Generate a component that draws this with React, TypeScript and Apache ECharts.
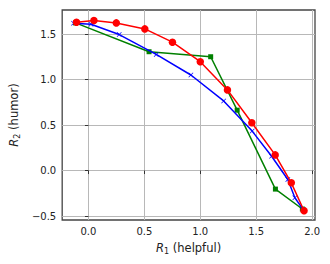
import React, { useEffect, useRef } from "react";
import * as echarts from "echarts";

const xTicks = [0.0, 0.5, 1.0, 1.5, 2.0];
const yTicks = [-0.5, 0.0, 0.5, 1.0, 1.5];

const redX = [-0.107, 0.049, 0.249, 0.504, 0.751, 1.0, 1.243, 1.461, 1.67, 1.814, 1.928];
const redY = [1.631, 1.65, 1.624, 1.558, 1.412, 1.197, 0.887, 0.526, 0.172, -0.135, -0.442];

const blueX = [-0.133, 0.023, 0.275, 0.606, 0.916, 1.209, 1.464, 1.638, 1.783, 1.846, 1.922];
const blueY = [1.62, 1.609, 1.496, 1.277, 1.051, 0.766, 0.434, 0.157, -0.099, -0.3, -0.431];

const greenX = [-0.116, 0.542, 1.093, 1.33, 1.672, 1.913];
const greenY = [1.624, 1.307, 1.252, 0.664, -0.204, -0.423];

const zip = (xs: number[], ys: number[]) => xs.map((x, i) => [x, ys[i]]);
const fmt = (v: number) => v.toFixed(1).replace("-", "\u2212");

const FONT = "DejaVu Sans";
const xMark =
  "path://M0,1L1,0L5,4L9,0L10,1L6,5L10,9L9,10L5,6L1,10L0,9L4,5Z";

const richName = {
  i: { fontStyle: "italic", fontFamily: FONT, fontSize: 11.5, color: "#222" },
  s: { fontFamily: FONT, fontSize: 8, color: "#222", padding: [6, 0, 0, 0] },
  n: { fontFamily: FONT, fontSize: 11.5, color: "#222" },
};

export default function App() {
  const ref = useRef<HTMLDivElement>(null);
  useEffect(() => {
    document.body.style.margin = "0";
    const chart = echarts.init(ref.current!, null, { renderer: "svg" });
    const axisCommon = {
      type: "value",
      axisLine: { show: false },
      axisTick: { show: true, inside: false, length: 3.5, lineStyle: { color: "#333", width: 1 } },
      splitLine: { show: true, lineStyle: { color: "#b8b8b8", width: 1 } },
    };
    chart.setOption({
      animation: false,
      textStyle: { fontFamily: FONT },
      grid: {
        left: 55,
        right: 15,
        top: 10,
        bottom: 44,
        show: true,
        borderColor: "#444",
        borderWidth: 1.3,
        backgroundColor: "#fff",
      },
      xAxis: {
        ...axisCommon,
        min: -0.235,
        max: 2.026,
        axisTick: { ...axisCommon.axisTick, customValues: xTicks },
        axisLabel: {
          customValues: xTicks,
          formatter: fmt,
          fontFamily: FONT,
          fontSize: 10,
          color: "#222",
          margin: 6,
        },
        name: "{i|R}{s|1}{n| (helpful)}",
        nameLocation: "middle",
        nameGap: 21,
        nameTextStyle: {
          fontFamily: FONT,
          fontSize: 11.5,
          color: "#222",
          align: "center",
          rich: richName,
        },
      },
      yAxis: {
        ...axisCommon,
        min: -0.544,
        max: 1.766,
        axisTick: { ...axisCommon.axisTick, customValues: yTicks },
        axisLabel: {
          customValues: yTicks,
          formatter: fmt,
          fontFamily: FONT,
          fontSize: 10,
          color: "#222",
          margin: 6,
        },
        name: "{i|R}{s|2}{n| (humor)}",
        nameLocation: "middle",
        nameGap: 36,
        nameTextStyle: {
          fontFamily: FONT,
          fontSize: 11.5,
          color: "#222",
          align: "center",
          rich: richName,
        },
      },
      series: [
        {
          type: "line",
          data: zip(greenX, greenY),
          symbol: "rect",
          symbolSize: 5,
          lineStyle: { color: "#008000", width: 1.5 },
          itemStyle: { color: "#008000" },
          z: 2,
        },
        {
          type: "line",
          data: zip(blueX, blueY),
          symbol: xMark,
          symbolSize: 5,
          lineStyle: { color: "#0000ff", width: 1.5 },
          itemStyle: { color: "#0000ff" },
          z: 3,
        },
        {
          type: "line",
          data: zip(redX, redY),
          symbol: "circle",
          symbolSize: 7.5,
          lineStyle: { color: "#ff0000", width: 1.5 },
          itemStyle: { color: "#ff0000" },
          z: 4,
        },
      ],
    });
    return () => chart.dispose();
  }, []);
  return <div ref={ref} style={{ width: 330, height: 264 }} />;
}
